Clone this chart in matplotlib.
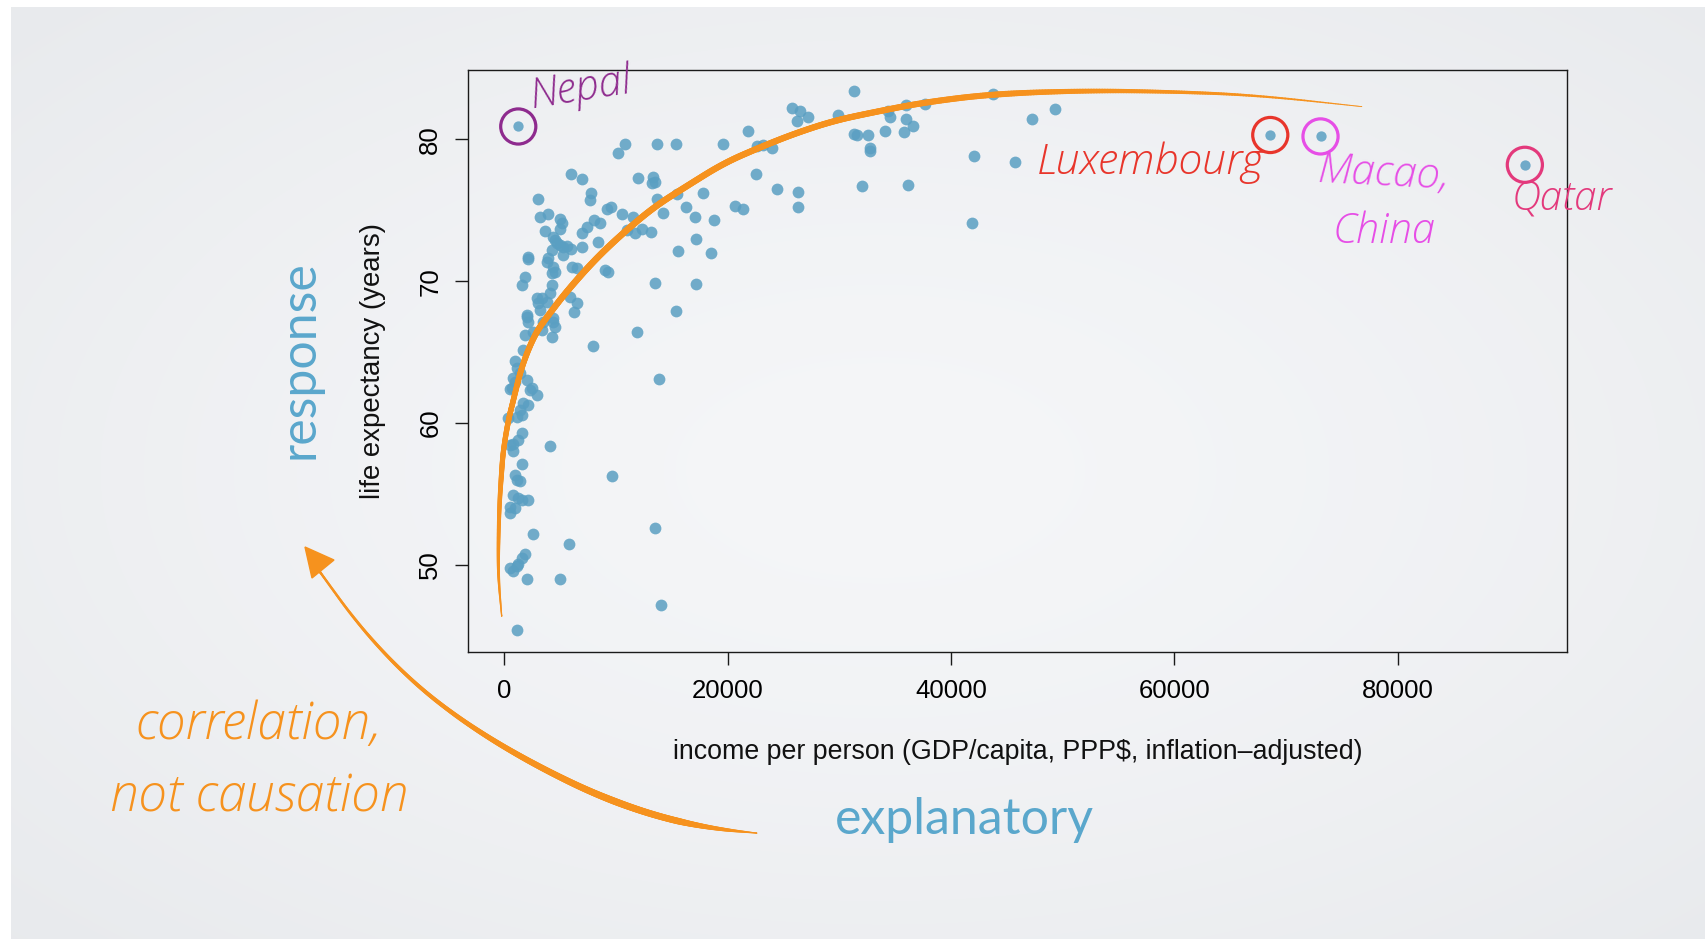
import numpy as np
import matplotlib
matplotlib.use("Agg")
import matplotlib.pyplot as plt
from matplotlib.collections import LineCollection
from matplotlib.patches import Polygon
from matplotlib.transforms import IdentityTransform

# ---------------- data ----------------
income = [
    43800, 47300, 49300, 42100, 45700, 41900,
    37700, 36000, 36000, 36600, 35800, 36200,
    34100, 34400, 34500,
    31300, 29900, 31300, 31600, 32600, 32750, 32750, 32000,
    25800, 26500, 26200, 27200,
    21800, 22600, 23200, 24000, 19550,
    22500, 24450, 26300, 26300,
    20650, 21400,
    15500, 17800, 16250, 17100, 18800,
    14200, 13650,
    17200, 15600, 18500,
    13500, 17150, 15400, 11900, 7900,
    13850, 13500, 14000, 9670,
    10800, 10200, 13700, 15400,
    6000, 7000, 12000, 13300, 13500, 13200,
    7800, 7700, 3050,
    9200, 9600, 10500, 11550,
    3200, 3950, 5000, 5150, 5000, 3650,
    8000, 8550, 7400, 6950,
    12300, 13100, 11000, 11700,
    4550, 5000, 5600, 4250, 4400, 4700, 5300, 6000, 5300,
    2150, 3950, 8420, 7000,
    2100, 4400, 4550, 4250, 3800,
    6050, 6500, 9000, 9300,
    1850, 1550,
    4250, 4100, 3350, 3050, 3200, 3800, 2900,
    5900, 6500, 6200,
    2000, 2150, 1850, 2600, 3500, 4400, 4550, 4250, 3350, 4330, 2060,
    1700,
    960, 1100, 1400,
    800, 660, 2000, 2300, 2900, 2450, 960,
    1700, 2150, 1400, 1550, 1100, 360, 510,
    4100, 1550, 1250, 800, 510, 800,
    1550,
    960, 1100, 1400,
    800, 1250, 2150, 1550, 510, 960, 510,
    2550, 5800,
    1850, 1550, 1250, 510, 800, 1100,
    2000, 5000,
    1100,
]
life = [
    83.2, 81.4, 82.1, 78.8, 78.4, 74.1,
    82.5, 82.4, 81.4, 80.9, 80.5, 76.8,
    80.6, 82.0, 81.6,
    83.4, 81.7, 80.4, 80.3, 80.3, 79.4, 79.2, 76.7,
    82.2, 82.0, 81.3, 81.6,
    80.6, 79.55, 79.6, 79.4, 79.7,
    77.55, 76.5, 76.3, 75.25,
    75.3, 75.1,
    76.15, 76.2, 75.25, 74.5, 74.3,
    74.8, 75.8,
    73.0, 72.1, 72.0,
    69.85, 69.8, 67.9, 66.4, 65.4,
    63.1, 52.6, 47.2, 56.3,
    79.7, 79.06, 79.7, 79.7,
    77.55, 77.2, 77.25, 77.35, 77.0, 76.9,
    76.2, 75.7, 75.8,
    75.1, 75.25, 74.7, 74.55,
    74.55, 74.75, 74.4, 74.1, 73.7, 73.55,
    74.3, 74.1, 73.85, 73.4,
    73.7, 73.45, 73.6, 73.4,
    72.9, 72.55, 72.45, 72.2, 73.1, 72.7, 72.4, 72.3, 71.85,
    71.7, 71.6, 72.75, 72.4,
    71.55, 71.0, 70.65, 70.55, 71.35,
    71.0, 70.9, 70.8, 70.65,
    70.3, 69.7,
    69.7, 69.15, 68.8, 68.45, 68.0, 68.55, 68.8,
    68.9, 68.45, 67.85,
    67.5, 67.15, 66.2, 66.45, 67.15, 67.15, 66.8, 66.1, 66.55, 67.4, 67.6,
    65.15,
    64.35, 63.85, 63.5,
    63.15, 62.45, 63.05, 62.35, 61.95, 62.45, 62.9,
    61.4, 61.3, 60.9, 60.55, 60.45, 60.35, 62.4,
    58.4, 59.3, 58.8, 58.55, 58.45, 58.0,
    57.1,
    56.35, 56.0, 55.9,
    54.95, 54.7, 54.6, 54.6, 54.1, 54.0, 53.65,
    52.15, 51.5,
    50.8, 50.5, 50.1, 49.8, 49.55, 49.9,
    49.0, 49.0,
    45.4,
]
assert len(income) == len(life)

highlight_names = ["Nepal", "Luxembourg", "Macao,", "Qatar"]
highlight_income = [1250, 68600, 73100, 91400]
highlight_life = [80.9, 80.3, 80.2, 78.2]
highlight_colors = ["#8e2b8e", "#e8352b", "#e64ee6", "#e3397c"]

x_ticks = [0, 20000, 40000, 60000, 80000]
y_ticks = [50, 60, 70, 80]
x_label = "income per person (GDP/capita, PPP$, inflation\u2013adjusted)"
y_label = "life expectancy (years)"

# hand-drawn trend sketch (data units)
trend_income = [-235, -520, -540, -450, -250, -90, 360, 806, 1558, 2750, 3940, 5500,
                7970, 10360, 13350, 16340, 19620, 22800, 26000, 29500, 33050, 37600,
                43830, 52300, 59840, 67380, 76800]
trend_life = [46.4, 49.0, 51.0, 54.1, 56.5, 58.1, 60.2, 61.6, 64.0, 66.3, 67.6, 69.2,
              71.4, 73.2, 75.2, 76.7, 78.3, 79.4, 80.4, 81.3, 81.9, 82.6,
              83.2, 83.43, 83.35, 83.1, 82.3]

# ---------------- figure ----------------
W, H = 1706, 942
DPI = 100
fig = plt.figure(figsize=(W / DPI, H / DPI), dpi=DPI)
PX = IdentityTransform()


def P(x, y):
    return x, H - y


def px2pt(v):
    return np.asarray(v) * 72.0 / DPI


# background slide gradient
bg = fig.add_axes([0, 0, 1, 1], zorder=-10)
yy, xx = np.mgrid[0:H, 0:W].astype(float)
r = np.sqrt(((xx - 880) / W) ** 2 + ((yy - 470) / H) ** 2)
t = np.clip(r / 0.75, 0, 1) ** 1.4
c_center = np.array([245, 246, 248]) / 255.0
c_edge = np.array([231, 233, 236]) / 255.0
img = c_center * (1 - t[..., None]) + c_edge * t[..., None]
img[:, :11] = 1.0
img[:7, :] = 1.0
img[939:, :] = 1.0
bg.imshow(img, aspect="auto", interpolation="bilinear")
bg.set_axis_off()

axis_font = ["Liberation Sans", "DejaVu Sans"]
fs_tick = 18.5
fs_lab = 19.3
hand_font = ["Open Sans", "DejaVu Sans"]
thin_font = ["Lato", "DejaVu Sans"]

ax = fig.add_axes([468 / W, 1 - 652 / H, (1567 - 468) / W, (652 - 70) / H])
ax.set_facecolor("none")
ax.set_xlim(-3251, 95175)
ax.set_ylim(43.87, 84.88)
for s in ax.spines.values():
    s.set_linewidth(1.0)
    s.set_color("#1a1a1a")
ax.set_xticks(x_ticks)
ax.set_yticks(y_ticks)
ax.set_xticklabels([str(v) for v in x_ticks], fontfamily=axis_font, fontsize=fs_tick)
ax.set_yticklabels([str(v) for v in y_ticks], fontfamily=axis_font, fontsize=fs_tick,
                   rotation=90, va="center")
ax.tick_params(axis="both", direction="out", length=9.5, width=1.0, color="#1a1a1a")
ax.tick_params(axis="x", pad=10)
ax.tick_params(axis="y", pad=9)

dot_color = "#5a9fc2"
ax.scatter(income, life, s=72, c=dot_color, alpha=0.85, linewidths=0, zorder=3)
ax.scatter(highlight_income, highlight_life, s=55, c=dot_color, alpha=0.85,
           linewidths=0, zorder=3)
ax.scatter(highlight_income, highlight_life, s=640, facecolors="none",
           edgecolors=highlight_colors, linewidths=2.3, zorder=4)


def chaikin(pts, n=4):
    pts = np.asarray(pts, float)
    for _ in range(n):
        q = 0.75 * pts[:-1] + 0.25 * pts[1:]
        r_ = 0.25 * pts[:-1] + 0.75 * pts[1:]
        new = np.empty((2 * len(q), 2))
        new[0::2] = q
        new[1::2] = r_
        pts = np.vstack([pts[:1], new, pts[-1:]])
    return pts


def tapered(container, pts_px, knots, widths_px, color, zorder):
    pts_px = np.asarray(pts_px)
    seg_len = np.hypot(*np.diff(pts_px, axis=0).T)
    cum = np.concatenate([[0], np.cumsum(seg_len)])
    tt = cum / cum[-1]
    mids = 0.5 * (tt[:-1] + tt[1:])
    w = np.interp(mids, knots, widths_px)
    segs = np.stack([pts_px[:-1], pts_px[1:]], axis=1)
    lc = LineCollection(segs, linewidths=px2pt(w), colors=color, capstyle="round",
                        joinstyle="round", transform=PX, zorder=zorder)
    container.add_artist(lc)


orange = "#f6921e"

# trend sketch inside axes, computed in data units then mapped to pixels
trend_pts = chaikin(np.column_stack([trend_income, trend_life]), 5)
trend_px = ax.transData.transform(trend_pts)
tapered(fig, trend_px, [0, 0.04, 0.12, 0.3, 0.7, 0.86, 1.0],
        [1.2, 3.0, 5.0, 6.5, 6.0, 3.2, 0.8], orange, 5)

# curved arrow (figure pixels, y from top)
arrow_x = [320, 353.6, 387.2, 420.8, 454.4, 488, 521.6, 555.2, 588.8, 622.4, 656,
           689.6, 723.2, 756.8]
arrow_y = [572, 618.4, 656.7, 688.6, 714.8, 737.3, 757.1, 774.9, 791.0, 804.5, 815.6,
           824.0, 829.7, 833.1]
apts = chaikin(np.column_stack([arrow_x, H - np.array(arrow_y, float)]), 5)
tapered(fig, apts, [0, 0.15, 0.35, 0.55, 0.72, 0.85, 0.94, 1.0],
        [2.2, 3.0, 4.2, 6.0, 7.0, 6.5, 3.5, 1.0], orange, 5)
head = Polygon([P(305, 547), P(334, 560), P(312, 578)], closed=True,
               facecolor=orange, edgecolor=orange, linewidth=1, transform=PX, zorder=6)
fig.add_artist(head)

# axis titles
fig.text(*P(1018, 752), x_label, transform=PX, ha="center", va="center",
         fontfamily=axis_font, fontsize=fs_lab, color="#111111")
fig.text(*P(373, 361), y_label, transform=PX, ha="center", va="center",
         rotation=90, fontfamily=axis_font, fontsize=fs_lab + 0.6, color="#111111")

# slide annotations
blue_txt = "#5aa7cc"
fig.text(*P(300, 360), "response", transform=PX, ha="center", va="center",
         rotation=90, fontfamily=thin_font, fontweight="normal", fontsize=36, color=blue_txt)
fig.text(*P(964, 820), "explanatory", transform=PX, ha="center", va="center",
         fontfamily=thin_font, fontweight="normal", fontsize=36, color=blue_txt)

fig.text(*P(259, 726), "correlation,", transform=PX, ha="center", va="center",
         fontfamily=hand_font, style="italic", fontweight="light", fontsize=37, color=orange)
fig.text(*P(259, 798), "not causation", transform=PX, ha="center", va="center",
         fontfamily=hand_font, style="italic", fontweight="light", fontsize=37, color=orange)

label_pos = [(581, 89, 9), (1151, 163, 0), (1384, 174, -3), (1562, 198, 0)]
label_fs = [30, 31, 30.5, 29]
for name, (lx, ly, rot), col, fs in zip(highlight_names, label_pos, highlight_colors, label_fs):
    fig.text(*P(lx, ly), name, transform=PX, ha="center", va="center", rotation=rot,
             fontfamily=hand_font, style="italic", fontweight="light", fontsize=fs, color=col)
fig.text(*P(1384, 232), "China", transform=PX, ha="center", va="center",
         fontfamily=hand_font, style="italic", fontweight="light", fontsize=30,
         color=highlight_colors[2])

fig.savefig("out.png", dpi=DPI)
